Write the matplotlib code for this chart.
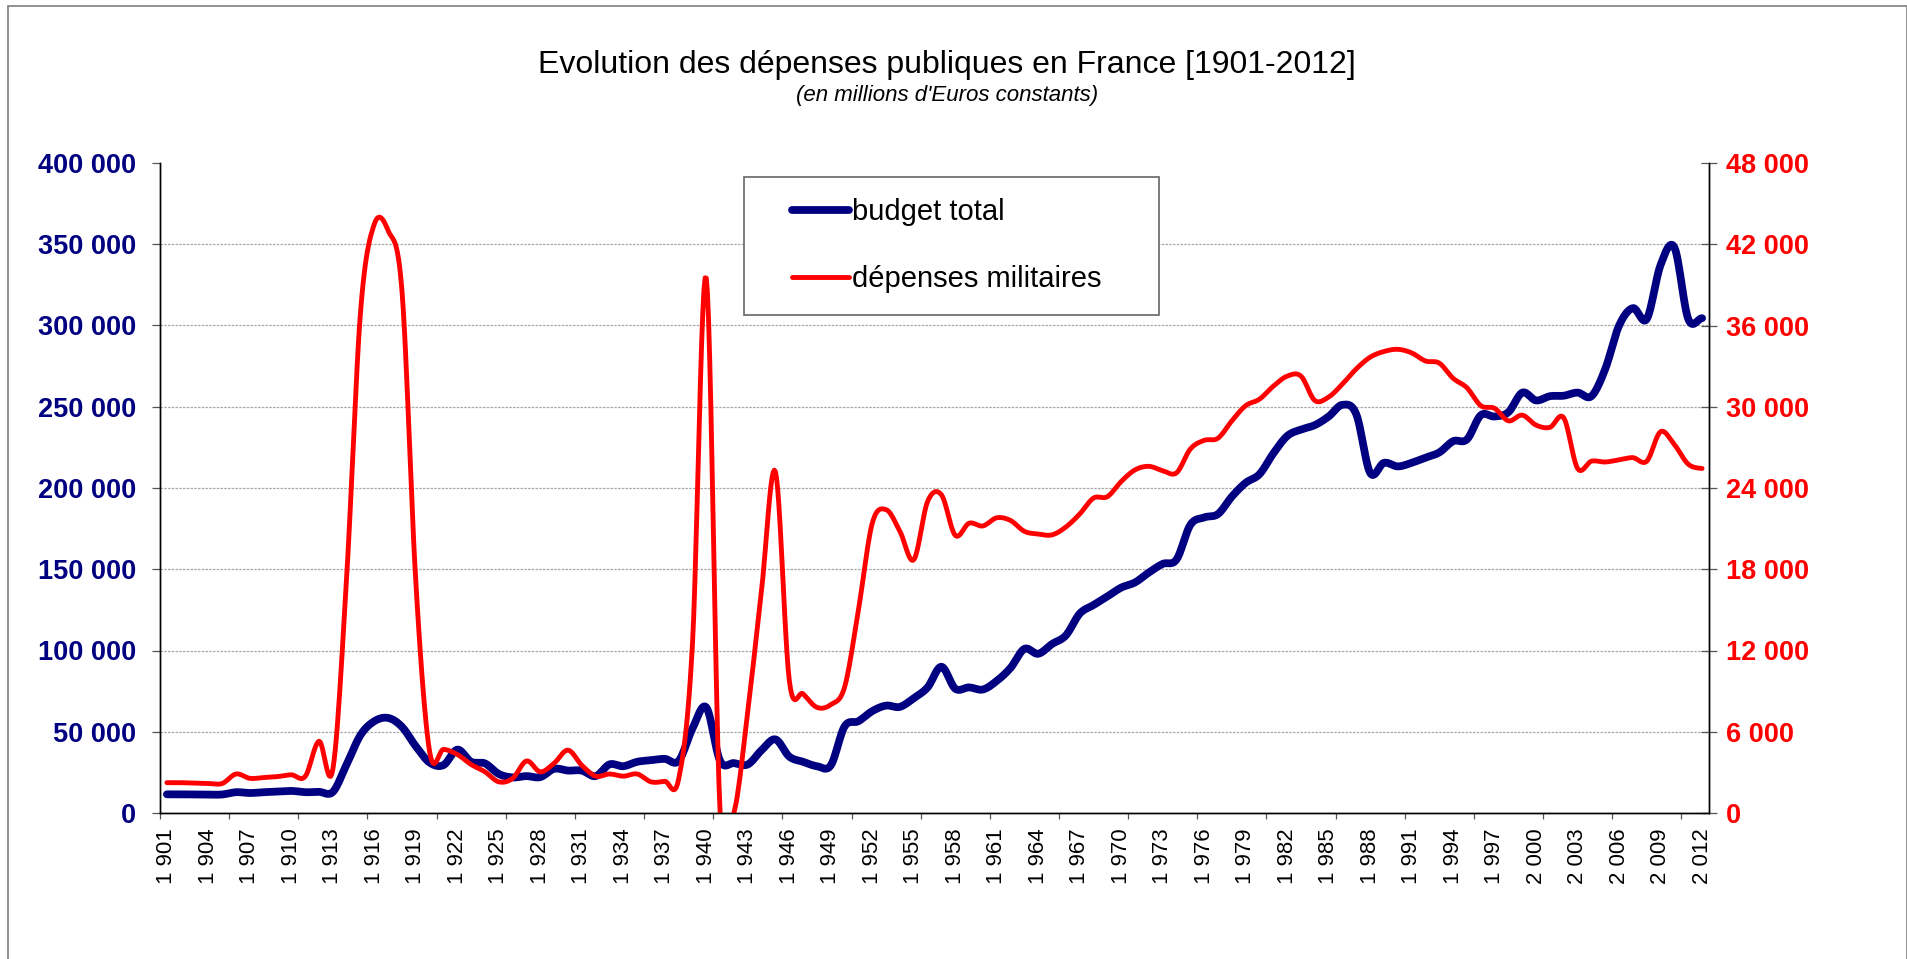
import numpy as np
import matplotlib
matplotlib.use("Agg")
import matplotlib.pyplot as plt
from matplotlib.patches import Rectangle
from matplotlib.ticker import FuncFormatter, FixedLocator

plt.rcParams['font.family'] = ['Liberation Sans', 'DejaVu Sans']

# ------------------------------------------------------------------
# Data
# ------------------------------------------------------------------

years = list(range(1901, 2013))

budget_total = [
    11500, 11500, 11400, 11300, 11400, 12800, 12300, 12800, 13200, 13600,   # 1901-1910
    12800, 13000, 13000, 30000, 48000, 56500, 58500, 53000, 41000, 31000,   # 1911-1920
    29500, 39000, 31500, 30500, 24000, 21900, 22700, 22100, 27200, 26100,   # 1921-1930
    26100, 22700, 29900, 28800, 31500, 32500, 33300, 32000, 52000, 65000,   # 1931-1940
    32000, 30700, 29900, 38700, 45300, 34700, 31500, 28800, 29300, 53300,   # 1941-1950
    56500, 62700, 66100, 65300, 70700, 77300, 90000, 76500, 77300, 76000,   # 1951-1960
    81300, 89300, 101000, 98000, 104000, 109300, 122700, 128000, 133300, 138700,  # 1961-1970
    141900, 148000, 153300, 156000, 177300, 181900, 184000, 194700, 203200, 208500,  # 1971-1980
    221300, 232000, 236000, 238700, 244000, 251200, 245300, 209300, 215500, 213300,  # 1981-1990
    215500, 218700, 221900, 228800, 229900, 244800, 244000, 246700, 258700, 253900,  # 1991-2000
    256500, 256800, 258700, 256500, 273300, 300000, 310700, 304000, 337300, 348000,  # 2001-2010
    304000, 304500,                                                          # 2011-2012
]

depenses_militaires = [
    2240, 2240, 2200, 2180, 2180, 2880, 2560, 2620, 2690, 2820,             # 1901-1910
    2700, 5300, 3250, 17500, 37000, 43500, 43000, 38500, 17000, 4500,       # 1911-1920
    4700, 4320, 3580, 3040, 2300, 2560, 3840, 3040, 3680, 4640,             # 1921-1930
    3520, 2720, 2880, 2720, 2880, 2300, 2340, 2500, 12500, 39500,           # 1931-1940
    0, 0, 7500, 16500, 25200, 9800, 8800, 7800, 8000, 9300,                 # 1941-1950
    15000, 21400, 22400, 20800, 18700, 23000, 23500, 20500, 21400, 21200,   # 1951-1960
    21800, 21600, 20800, 20600, 20540, 21120, 22080, 23260, 23360, 24480,   # 1961-1970
    25340, 25600, 25280, 25120, 26880, 27520, 27680, 28960, 30080, 30560,   # 1971-1980
    31520, 32260, 32260, 30460, 30720, 31680, 32800, 33660, 34080, 34240,   # 1981-1990
    33980, 33380, 33220, 32100, 31400, 30080, 29880, 28960, 29380, 28640,   # 1991-2000
    28480, 29180, 25440, 25980, 25920, 26080, 26240, 25980, 28160, 27200,   # 2001-2010
    25760, 25440,                                                           # 2011-2012
]

left_ticks = [0, 50000, 100000, 150000, 200000, 250000, 300000, 350000, 400000]
right_ticks = [0, 6000, 12000, 18000, 24000, 30000, 36000, 42000, 48000]
label_years = years[::3]

NAVY = "#000080"
RED = "#FF0000"


def smooth(x, y, n=12):
    # Excel style "smoothed line" (Catmull-Rom through the yearly points)
    x = np.asarray(x, float)
    y = np.asarray(y, float)
    yp = np.concatenate([[y[0]], y, [y[-1]]])
    xs, ys = [], []
    t = np.linspace(0, 1, n, endpoint=False)
    for i in range(len(y) - 1):
        p0, p1, p2, p3 = yp[i], yp[i + 1], yp[i + 2], yp[i + 3]
        seg = 0.5 * (2 * p1 + (-p0 + p2) * t
                     + (2 * p0 - 5 * p1 + 4 * p2 - p3) * t ** 2
                     + (-p0 + 3 * p1 - 3 * p2 + p3) * t ** 3)
        xs.append(x[i] + t * (x[i + 1] - x[i]))
        ys.append(seg)
    xs.append([x[-1]])
    ys.append([y[-1]])
    return np.concatenate(xs), np.concatenate(ys)


def fmt_space(v, pos=None):
    v = int(round(v))
    if v >= 1000:
        return f"{v // 1000} {v % 1000:03d}"
    return str(v)


W, H = 1908, 959
fig = plt.figure(figsize=(W / 100, H / 100), dpi=100)
fig.subplots_adjust(left=160 / W, right=1709 / W, bottom=1 - 813 / H, top=1 - 163 / H)
ax = fig.add_subplot(111)
ax2 = ax.twinx()

# outer chart-area border
fig.patches.append(Rectangle((8 / W, -0.02), (1907 - 8) / W, 1.02 - 6 / H,
                             transform=fig.transFigure, fill=False,
                             edgecolor="#7f7f7f", linewidth=1.2))

bx, by = smooth(years, budget_total)
mx, my = smooth(years, depenses_militaires)
line_b, = ax.plot(bx, by, color=NAVY, lw=5.6, solid_capstyle="round",
                  solid_joinstyle="round", label="budget total")
line_m, = ax2.plot(mx, my, color=RED, lw=3.5, solid_capstyle="round",
                   solid_joinstyle="round", label="dépenses militaires")

ax.set_xlim(1900.5, 2012.5)
ax.set_ylim(0, 400000)
ax2.set_ylim(0, 48000)

# x axis: labels every 3 years, tick marks every 5 categories
ax.xaxis.set_major_locator(FixedLocator(label_years))
ax.xaxis.set_major_formatter(FuncFormatter(fmt_space))
ax.xaxis.set_minor_locator(FixedLocator(np.arange(1900.5, 2011, 5)))
ax.tick_params(axis="x", which="major", length=0, pad=11, labelsize=16,
               labelrotation=90)
ax.tick_params(axis="x", which="minor", length=4.5, width=0.9,
               color="#555555", direction="out")

ax.set_yticks(left_ticks)
ax.yaxis.set_major_formatter(FuncFormatter(fmt_space))
ax.tick_params(axis="y", length=6, width=0.9, color="#555555", pad=11,
               labelsize=19.5, labelcolor=NAVY)
for lab in ax.get_yticklabels():
    lab.set_fontweight("bold")

ax2.set_yticks(right_ticks)
ax2.yaxis.set_major_formatter(FuncFormatter(fmt_space))
ax2.tick_params(axis="y", direction="inout", length=12, width=0.9,
                color="#555555", pad=6, labelsize=19.5, labelcolor=RED)
for lab in ax2.get_yticklabels():
    lab.set_fontweight("bold")

ax.grid(axis="y", color="#a8a8a8", linewidth=0.9, linestyle=(0, (2, 1)))
ax.set_axisbelow(True)
ax.get_ygridlines()[-1].set_visible(False)

for a in (ax, ax2):
    a.spines["top"].set_visible(False)
    for s in ("left", "right", "bottom"):
        a.spines[s].set_linewidth(1.0)
        a.spines[s].set_color("black")

# legend box (white, grey frame) and legend entries
ax2.add_patch(Rectangle((744 / W, 1 - 315 / H), (1159 - 744) / W, (315 - 177) / H,
                        transform=fig.transFigure, facecolor="white",
                        edgecolor="#666666", linewidth=1.2, zorder=5,
                        clip_on=False))
leg = ax2.legend(handles=[line_b, line_m], loc="upper left",
                 bbox_to_anchor=(792 / W, 1 - 198 / H),
                 bbox_transform=fig.transFigure, frameon=False, fontsize=21,
                 handlelength=1.95, handletextpad=0.1, labelspacing=1.33,
                 borderpad=0, borderaxespad=0)
leg.set_zorder(6)

fig.text(946.5 / W, 1 - 65 / H, "Evolution des dépenses publiques en France [1901-2012]",
         ha="center", va="center", fontsize=23)
fig.text(947.5 / W, 1 - 95 / H, "(en millions d'Euros constants)",
         ha="center", va="center", fontsize=16, style="italic")

fig.savefig("out.png", dpi=100)
plt.close(fig)
